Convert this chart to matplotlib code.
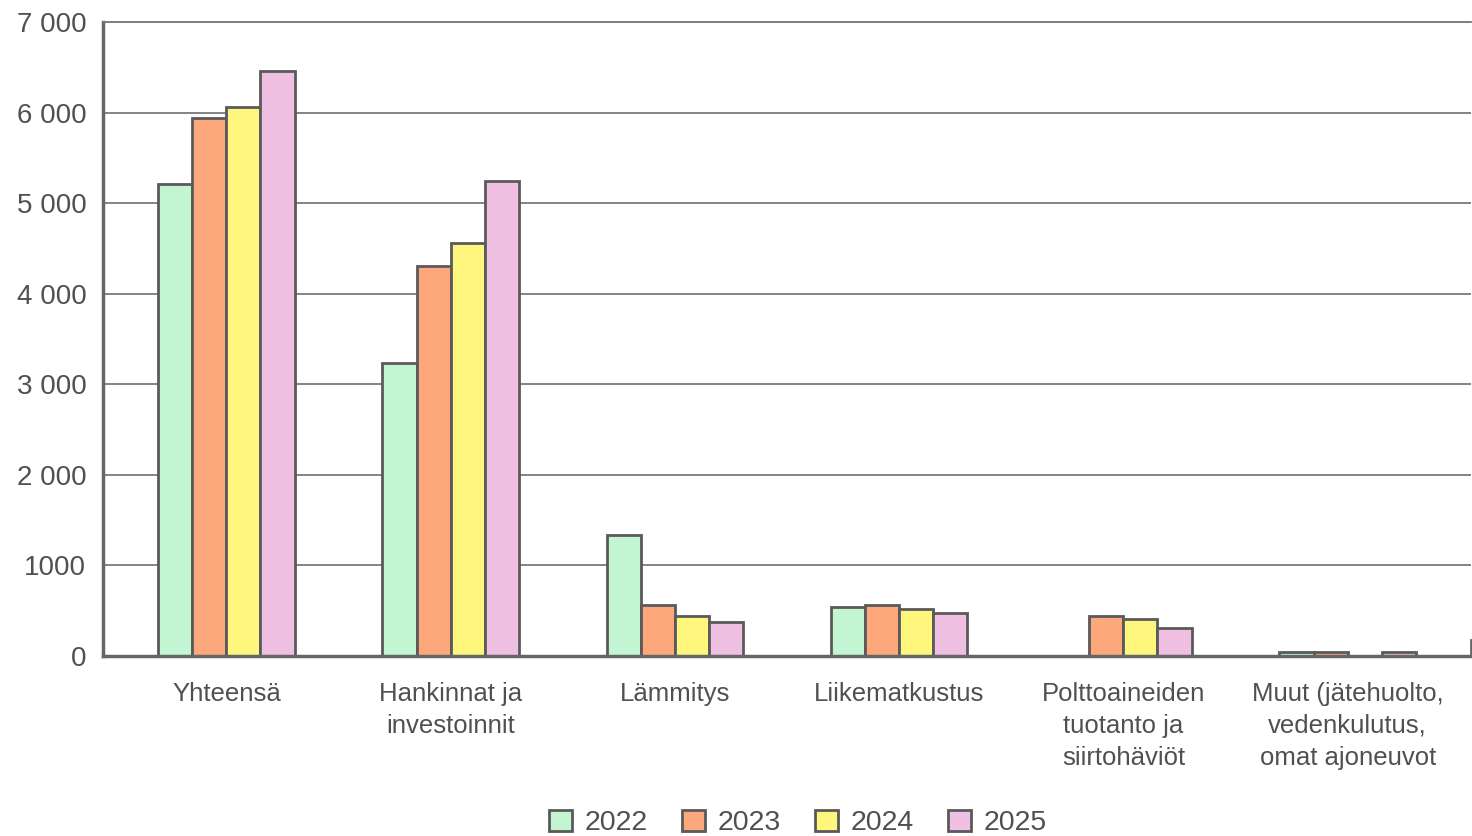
import matplotlib
matplotlib.use("Agg")
import matplotlib.pyplot as plt
import numpy as np

categories = ["Yhteensä", "Hankinnat ja\ninvestoinnit", "Lämmitys", "Liikematkustus",
              "Polttoaineiden\ntuotanto ja\nsiirtohäviöt",
              "Muut (jätehuolto,\nvedenkulutus,\nomat ajoneuvot"]
years = ["2022", "2023", "2024", "2025"]
v2022 = [5210, 3235, 1336, 541, 0, 45]
v2023 = [5940, 4306, 563, 563, 442, 45]
v2024 = [6062, 4560, 442, 519, 409, 0]
v2025 = [6459, 5245, 375, 475, 309, 45]
series = [v2022, v2023, v2024, v2025]
colors = ["#c4f5d3", "#fda87c", "#fff77d", "#efc0e1"]
yticks = [0, 1000, 2000, 3000, 4000, 5000, 6000, 7000]
ytick_labels = ["0", "1000", "2 000", "3 000", "4 000", "5 000", "6 000", "7 000"]

plt.rcParams['font.family'] = ['Liberation Sans', 'DejaVu Sans']
txt = "#505050"
edge = "#5a5a5a"

fig = plt.figure(figsize=(14.72, 8.36), dpi=100)
ax = fig.add_axes([103/1472, 1-656/836, (1471-103)/1472, (656-22)/836])

x = np.arange(len(categories))
w = 0.152
for i, (vals, c, yr) in enumerate(zip(series, colors, years)):
    ax.bar(x + (i - 1.5) * w, vals, width=w, color=c, edgecolor=edge,
           linewidth=2.0, label=yr, zorder=3)

ax.set_xlim(-0.55, 5.55)
ax.set_ylim(0, 7000)
ax.set_yticks(yticks)
ax.set_yticklabels(ytick_labels)
ax.set_xticks(x)
ax.set_xticklabels(categories, linespacing=1.4)
ax.tick_params(axis='y', length=0, pad=12, labelsize=20, labelcolor=txt)
ax.tick_params(axis='x', length=0, pad=19, labelsize=18.5, labelcolor=txt)
ax.yaxis.grid(True, color="#7a7a7a", linewidth=1.3, zorder=1)
ax.set_axisbelow(True)
ax.spines["right"].set_visible(False)
ax.spines["top"].set_color("#7a7a7a")
ax.spines["top"].set_linewidth(1.3)
ax.spines["left"].set_color("#666666")
ax.spines["left"].set_linewidth(2.5)
ax.spines["bottom"].set_color("#666666")
ax.spines["bottom"].set_linewidth(2.5)
ax.spines["bottom"].set_zorder(4)
ax.plot([1, 1], [0, 0.025], transform=ax.transAxes, color="#666666",
        linewidth=2.0, clip_on=False, zorder=4)

leg = fig.legend(loc="center", bbox_to_anchor=(798/1472, 1-823/836), ncol=4,
                 frameon=False, fontsize=20.5, handlelength=0.8, handleheight=0.8,
                 columnspacing=1.2, handletextpad=0.45)
for t in leg.get_texts():
    t.set_color(txt)

fig.savefig("out.png", dpi=100)
